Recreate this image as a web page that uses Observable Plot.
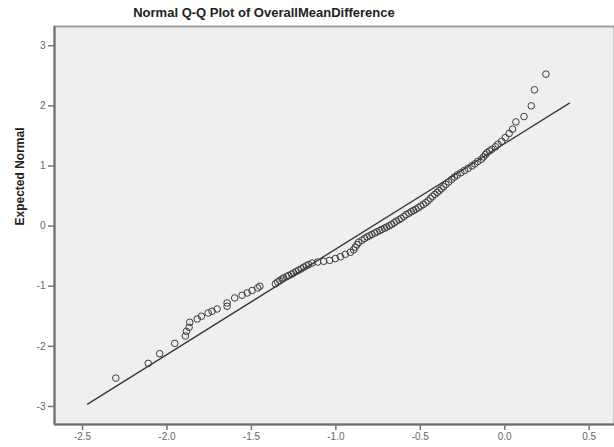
<!DOCTYPE html>
<html>
<head>
<meta charset="utf-8">
<script src="https://cdn.jsdelivr.net/npm/d3@7"></script>
<script src="https://cdn.jsdelivr.net/npm/@observablehq/plot@0.6"></script>
<style>
  html, body { margin: 0; padding: 0; background: #fff; }
  #title { width: 528px; height: 24px; line-height: 26px; text-align: center;
           font-family: "Liberation Sans", Arial, sans-serif; font-weight: bold; font-size: 13px; color: #222; }
  #chart svg { display: block; }
</style>
</head>
<body>
<div id="title">Normal Q-Q Plot of OverallMeanDifference</div>
<div id="chart"></div>
<script>
const observedValue = [
  -2.303, -2.111, -2.043, -1.954, -1.891, -1.885, -1.869, -1.865, -1.821, -1.796,
  -1.756, -1.733, -1.703, -1.644, -1.644, -1.599, -1.555, -1.525, -1.496, -1.463, -1.450,
  -1.358, -1.345, -1.332, -1.318, -1.309, -1.292, -1.279, -1.262, -1.250, -1.235,
  -1.220, -1.205, -1.190, -1.175, -1.161, -1.141, -1.108, -1.072, -1.037, -1.003,
  -0.973, -0.944, -0.914, -0.895, -0.885, -0.875, -0.865, -0.845, -0.830, -0.815,
  -0.800, -0.786, -0.770, -0.756, -0.740, -0.727, -0.712, -0.699, -0.684, -0.670,
  -0.655, -0.642, -0.626, -0.613, -0.597, -0.584, -0.567, -0.553, -0.540, -0.526,
  -0.512, -0.497, -0.482, -0.468, -0.454, -0.440, -0.427, -0.414, -0.400, -0.388,
  -0.376, -0.362, -0.348, -0.332, -0.314, -0.298, -0.281, -0.260, -0.238, -0.217,
  -0.195, -0.177, -0.160, -0.138, -0.126, -0.114, -0.105, -0.090, -0.076, -0.055,
  -0.040, -0.018, 0.003, 0.026, 0.046, 0.066, 0.114, 0.157, 0.176, 0.244
];
const expectedNormal = [
  -2.528, -2.283, -2.122, -1.950, -1.828, -1.750, -1.683, -1.600, -1.545, -1.500,
  -1.445, -1.417, -1.378, -1.333, -1.278, -1.195, -1.150, -1.112, -1.072, -1.030, -1.000,
  -0.960, -0.930, -0.905, -0.880, -0.862, -0.840, -0.822, -0.800, -0.778, -0.755,
  -0.733, -0.710, -0.683, -0.660, -0.640, -0.615, -0.598, -0.585, -0.570, -0.540,
  -0.510, -0.470, -0.435, -0.395, -0.350, -0.310, -0.270, -0.235, -0.205, -0.180,
  -0.160, -0.138, -0.115, -0.095, -0.075, -0.055, -0.035, -0.015, 0.005, 0.028,
  0.055, 0.083, 0.105, 0.128, 0.160, 0.190, 0.215, 0.240, 0.260, 0.280,
  0.305, 0.333, 0.360, 0.388, 0.420, 0.460, 0.495, 0.528, 0.560, 0.590,
  0.620, 0.655, 0.695, 0.735, 0.778, 0.815, 0.850, 0.888, 0.925, 0.960,
  1.000, 1.035, 1.075, 1.112, 1.150, 1.190, 1.222, 1.250, 1.278, 1.320,
  1.362, 1.410, 1.472, 1.540, 1.612, 1.733, 1.822, 2.000, 2.267, 2.528
];
// Reference line endpoints
const lineX = [-2.47, 0.383];
const lineY = [-2.96, 2.045];
// Ticks
const xTicks = [-2.5, -2.0, -1.5, -1.0, -0.5, 0.0, 0.5];
const yTicks = [-3, -2, -1, 0, 1, 2, 3];
const xDomain = [-2.666, 0.65];
const yDomain = [-3.3, 3.32];

const points = observedValue.map((x, i) => ({x, y: expectedNormal[i]}));
const refLine = lineX.map((x, i) => ({x, y: lineY[i]}));

const chart = Plot.plot({
  width: 614,
  height: 423,
  marginLeft: 54,
  marginRight: 0,
  marginTop: 2,
  marginBottom: 23,
  style: {fontFamily: "'Liberation Sans', Arial, sans-serif", background: "#fff"},
  x: {domain: xDomain},
  y: {domain: yDomain},
  marks: [
    Plot.frame({fill: "#efefef", stroke: "#a0a0a0", strokeWidth: 2}),
    Plot.ruleX([xDomain[0]], {stroke: "#6e6e6e", strokeWidth: 2}),
    Plot.ruleY([yDomain[0]], {stroke: "#6e6e6e", strokeWidth: 2}),
    Plot.axisX({ticks: xTicks, tickSize: 6, tickPadding: 2, tickFormat: d => d.toFixed(1),
                fontSize: 10, color: "#666", stroke: "#777", strokeWidth: 1.5, label: null}),
    Plot.axisY({ticks: yTicks, tickSize: 6, tickPadding: 3, tickFormat: d => String(d),
                fontSize: 10, color: "#666", stroke: "#777", strokeWidth: 1.5, label: null}),
    Plot.line(refLine, {x: "x", y: "y", stroke: "#3a3a3a", strokeWidth: 1.4}),
    Plot.dot(points, {x: "x", y: "y", r: 3.3, stroke: "#3c3c3c", strokeWidth: 1, fill: "none"}),
    Plot.text(["Expected Normal"], {frameAnchor: "left", dx: -34, rotate: -90,
                fontWeight: "bold", fontSize: 12, fill: "#222"})
  ]
});
document.getElementById("chart").appendChild(chart);
</script>
</body>
</html>
